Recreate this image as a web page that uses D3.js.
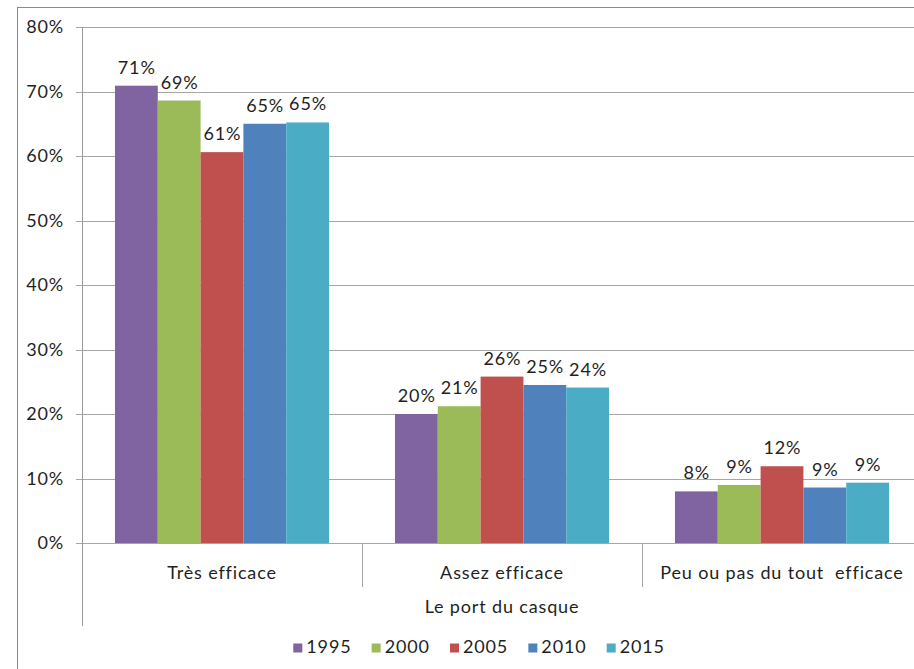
<!DOCTYPE html>
<html><head><meta charset="utf-8">
<script src="https://cdn.jsdelivr.net/npm/d3@7"></script>
<style>
body{margin:0;background:#fff}
svg{display:block}
text{font-family:Lato,"Open Sans",sans-serif;fill:#1f1f1f;letter-spacing:0.85px}
</style>
</head><body>
<svg id="c" width="914" height="669"></svg>
<script>
const categories = ["Très efficace", "Assez efficace", "Peu ou pas du tout  efficace"];
const years = ["1995", "2000", "2005", "2010", "2015"];
const v1995 = [70.9, 20.0, 8.0];
const v2000 = [68.6, 21.2, 9.0];
const v2005 = [60.6, 25.8, 11.9];
const v2010 = [65.0, 24.5, 8.6];
const v2015 = [65.2, 24.1, 9.35];
const yTicks = [0, 10, 20, 30, 40, 50, 60, 70, 80];
const colors = ["#8064A2", "#9BBB59", "#C0504D", "#4F81BD", "#4BACC6"];
const axisTitle = "Le port du casque";

const series = [v1995, v2000, v2005, v2010, v2015];
const svg = d3.select("#c");
const FS = 18;

const x0 = d3.scaleBand().domain(categories).range([82, 922]).paddingInner(0).paddingOuter(0);
const x1 = d3.scaleBand().domain(years).range([0, x0.bandwidth()]).paddingInner(0).paddingOuter(0.77);
const y = d3.scaleLinear().domain([0, 80]).range([543, 27]);
const color = d3.scaleOrdinal().domain(years).range(colors);

// outer border
svg.append("line").attr("x1", 17.5).attr("x2", 17.5).attr("y1", 7).attr("y2", 669).attr("stroke", "#8a8a8a");
svg.append("line").attr("x1", 17).attr("x2", 914).attr("y1", 7.5).attr("y2", 7.5).attr("stroke", "#8a8a8a");

// gridlines
svg.append("g").selectAll("line").data(yTicks).join("line")
  .attr("x1", 76).attr("x2", 922)
  .attr("y1", d => Math.round(y(d)) + 0.5).attr("y2", d => Math.round(y(d)) + 0.5)
  .attr("stroke", "#a6a6a6").attr("stroke-width", 1);

// y axis tick labels
const yAxis = d3.axisLeft(y).tickValues(yTicks).tickFormat(d => d + "%").tickSize(0).tickPadding(18);
const ga = svg.append("g").attr("transform", "translate(82,0)").call(yAxis);
ga.select(".domain").remove();
ga.selectAll("text").attr("font-size", FS).attr("font-family", "Lato").attr("fill", "#1f1f1f");

// bars
const groups = svg.append("g").selectAll("g").data(categories).join("g")
  .attr("transform", d => `translate(${x0(d)},0)`);
groups.selectAll("rect").data((c, ci) => years.map((yr, si) => ({yr, v: series[si][ci]})))
  .join("rect")
  .attr("x", d => x1(d.yr)).attr("width", x1.bandwidth())
  .attr("y", d => y(d.v)).attr("height", d => y(0) - y(d.v))
  .attr("fill", d => color(d.yr));
groups.selectAll("text").data((c, ci) => years.map((yr, si) => ({yr, v: series[si][ci]})))
  .join("text")
  .attr("x", d => x1(d.yr) + x1.bandwidth() / 2 + 0.4)
  .attr("y", d => y(d.v) - 12)
  .attr("text-anchor", "middle").attr("font-size", FS)
  .text(d => Math.round(d.v) + "%");

// y axis line (extends into category axis)
svg.append("line").attr("x1", 82.5).attr("x2", 82.5).attr("y1", 27).attr("y2", 626).attr("stroke", "#9a9a9a");

// category separators
svg.append("g").selectAll("line").data(categories.slice(1).concat(["__end"])).join("line")
  .attr("x1", (d, i) => Math.round(x0.range()[0] + (i + 1) * x0.step()) + 0.5)
  .attr("x2", (d, i) => Math.round(x0.range()[0] + (i + 1) * x0.step()) + 0.5)
  .attr("y1", 543).attr("y2", 587).attr("stroke", "#a6a6a6");

// category labels
svg.append("g").selectAll("text").data(categories).join("text")
  .attr("x", d => x0(d) + x0.bandwidth() / 2).attr("y", 579)
  .attr("text-anchor", "middle").attr("font-size", FS)
  .style("white-space", "pre").attr("xml:space", "preserve")
  .text(d => d);

// axis title
svg.append("text").attr("x", (x0.range()[0] + x0.range()[1]) / 2).attr("y", 613)
  .attr("text-anchor", "middle").attr("font-size", FS).text(axisTitle);

// legend
const lg = svg.append("g").selectAll("g").data(years).join("g")
  .attr("transform", (d, i) => `translate(${293.3 + i * 78.35},643.5)`);
lg.append("rect").attr("width", 9).attr("height", 9).attr("fill", d => color(d));
lg.append("text").attr("x", 13).attr("y", 9.8).attr("font-size", FS).text(d => d);
</script>
</body></html>
